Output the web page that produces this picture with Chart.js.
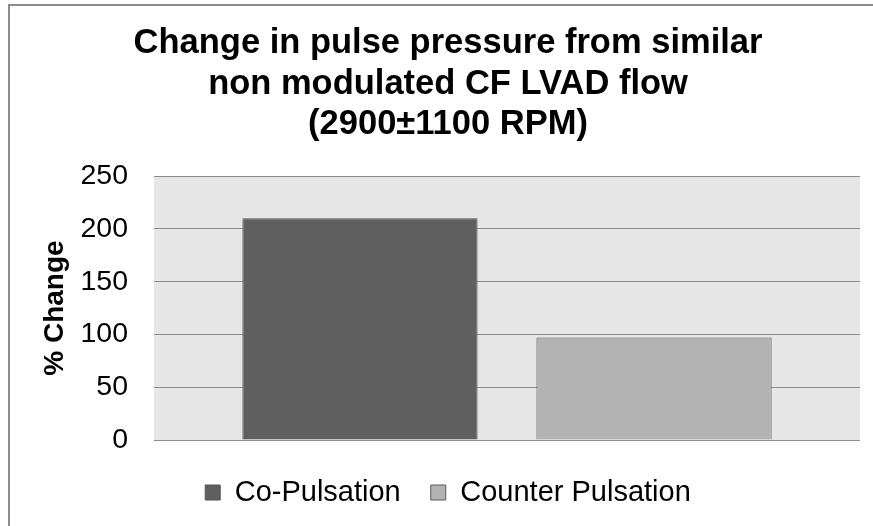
<!DOCTYPE html>
<html>
<head>
<meta charset="utf-8">
<script src="https://cdn.jsdelivr.net/npm/chart.js@4.4.1/dist/chart.umd.min.js"></script>
<style>
  html, body { margin: 0; padding: 0; background: #ffffff; }
  canvas { display: block; }
</style>
</head>
<body>
<canvas id="pulseChart" width="873" height="526"></canvas>
<script>
const categories = [''];
const seriesNames = ['Co-Pulsation', 'Counter Pulsation'];
const coPulsation = [210];
const counterPulsation = [97];
const yTicks = [0, 50, 100, 150, 200, 250];
const titleLines = ['Change in pulse pressure from similar', 'non modulated CF LVAD flow', '(2900\u00b11100 RPM)'];

// grey plot area + the frame lines at top and left
const backgroundPlugin = {
    id: 'backgroundPlugin',
    beforeDraw(chart) {
        const ctx = chart.ctx;
        const area = chart.chartArea;
        ctx.save();
        ctx.fillStyle = '#e6e6e6';
        ctx.fillRect(area.left, area.top, area.right - area.left, area.bottom - area.top);
        ctx.strokeStyle = '#8c8c8c';
        ctx.lineWidth = 2;
        ctx.beginPath();
        ctx.moveTo(9, chart.height);
        ctx.lineTo(9, 5);
        ctx.lineTo(chart.width, 5);
        ctx.stroke();
        ctx.restore();
    }
};

const ctx = document.getElementById('pulseChart').getContext('2d');

const chartData = {
    labels: categories,
    datasets: [
        {
            label: seriesNames[0],
            data: coPulsation,
            backgroundColor: '#5f5f5f',
            borderColor: '#555555',
            borderWidth: 1,
            categoryPercentage: 0.833,
            barPercentage: 0.8
        },
        {
            label: seriesNames[1],
            data: counterPulsation,
            backgroundColor: '#b3b3b3',
            borderColor: '#5a5a5a',
            borderWidth: 1,
            categoryPercentage: 0.833,
            barPercentage: 0.8
        }
    ]
};

const chartOptions = {
    responsive: false,
    maintainAspectRatio: false,
    animation: false,
    layout: {
        padding: { left: 36, right: 13, top: 0, bottom: 9 }
    },
    plugins: {
        title: {
            display: true,
            text: titleLines,
            color: '#000000',
            font: { family: 'Liberation Sans, Arial', size: 34.5, weight: 'bold', lineHeight: 1.18 },
            padding: { top: 23, bottom: 31 }
        },
        legend: {
            position: 'bottom',
            labels: {
                color: '#000000',
                font: { family: 'Liberation Sans, Arial', size: 29 },
                boxWidth: 15,
                boxHeight: 15,
                padding: 30
            }
        },
        tooltip: { enabled: false }
    },
    scales: {
        x: {
            type: 'category',
            grid: { display: false },
            border: { display: false },
            ticks: { display: false },
            afterFit: function(scale) {
                scale.height = 8;
            }
        },
        y: {
            min: 0,
            max: 250,
            afterBuildTicks: function(scale) {
                scale.ticks = yTicks.map(v => ({ value: v }));
            },
            grid: {
                color: '#8c8c8c',
                lineWidth: 1,
                drawTicks: false
            },
            border: { display: false },
            ticks: {
                color: '#000000',
                padding: 26,
                font: { family: 'Liberation Sans, Arial', size: 28.5 }
            },
            title: {
                display: true,
                text: '% Change',
                color: '#000000',
                font: { family: 'Liberation Sans, Arial', size: 28, weight: 'bold', lineHeight: 1.2 },
                padding: { top: 2, bottom: 0 }
            },
            afterFit: function(scale) {
                scale.width = 118;
            }
        }
    }
};

const pulseChart = new Chart(ctx, {
    type: 'bar',
    data: chartData,
    options: chartOptions,
    plugins: [backgroundPlugin]
});
</script>
</body>
</html>
